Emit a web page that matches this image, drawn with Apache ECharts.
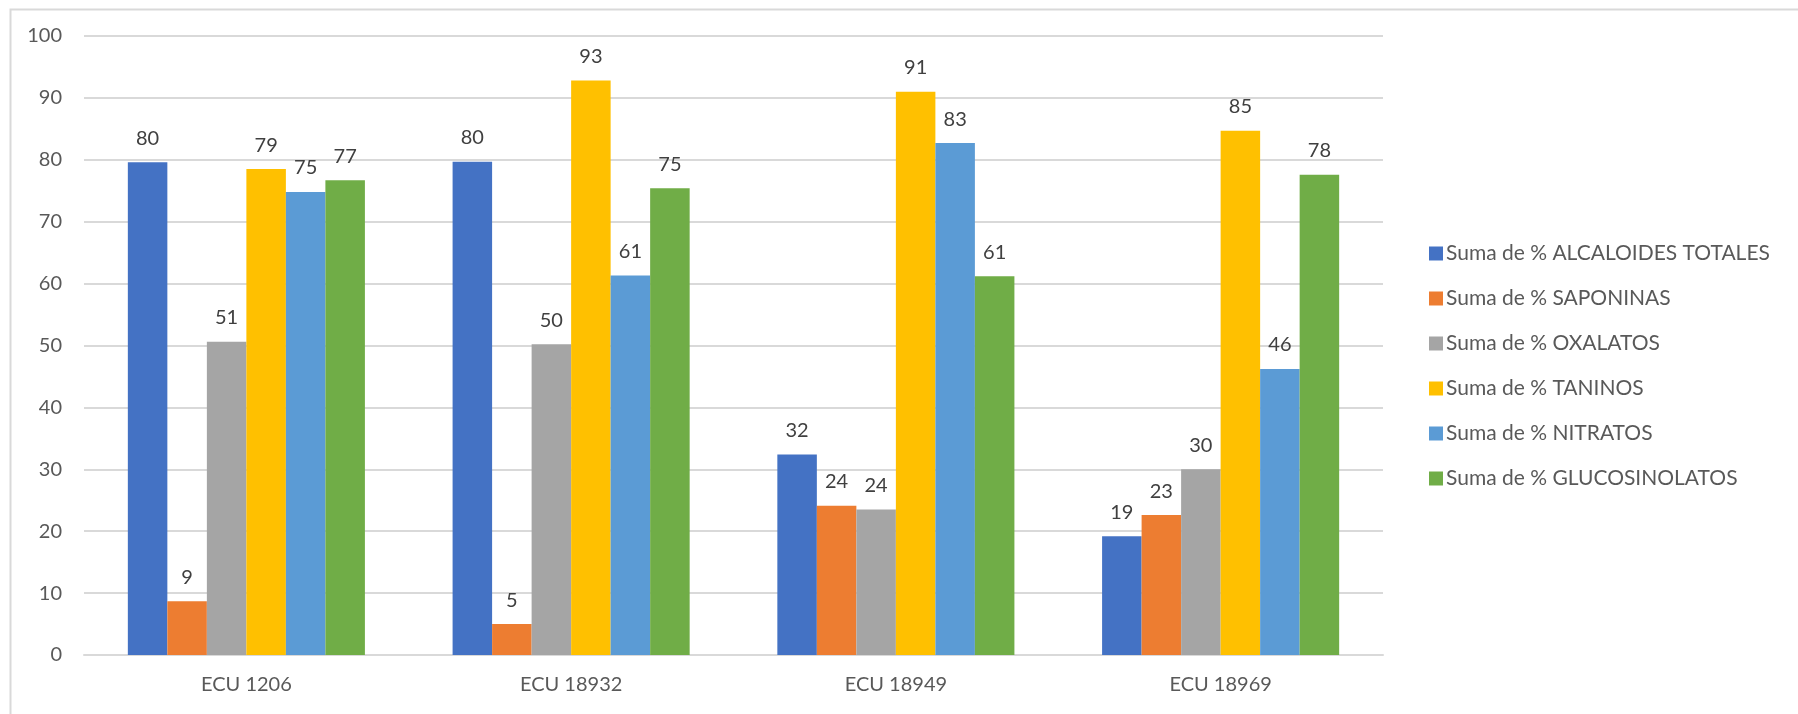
<!DOCTYPE html>
<html>
<head>
<meta charset="utf-8">
<script src="https://cdn.jsdelivr.net/npm/echarts@6/dist/echarts.min.js"></script>
<style>
  html, body { margin: 0; padding: 0; background: #fff; }
  #chart { width: 1798px; height: 714px; }
</style>
</head>
<body>
<div id="chart"></div>
<script>
// categories and series values
const categories = ['ECU 1206', 'ECU 18932', 'ECU 18949', 'ECU 18969']
const seriesNames = [
  'Suma de % ALCALOIDES TOTALES',
  'Suma de % SAPONINAS',
  'Suma de % OXALATOS',
  'Suma de % TANINOS',
  'Suma de % NITRATOS',
  'Suma de % GLUCOSINOLATOS'
]
const alcaloides = [79.6, 79.7, 32.4, 19.2]
const saponinas = [8.7, 5.0, 24.1, 22.6]
const oxalatos = [50.6, 50.2, 23.5, 30.0]
const taninos = [78.5, 92.8, 91.0, 84.7]
const nitratos = [74.8, 61.3, 82.7, 46.2]
const glucosinolatos = [76.7, 75.4, 61.2, 77.6]
const yTicks = [0, 10, 20, 30, 40, 50, 60, 70, 80, 90, 100]

const colors = ['#4472C4', '#ED7D31', '#A5A5A5', '#FFC000', '#5B9BD5', '#70AD47']
const textColor = '#595959'
const fontFamily = 'Lato, "Open Sans", sans-serif'

const allValues = [alcaloides, saponinas, oxalatos, taninos, nitratos, glucosinolatos]

function getSerie(name, data, index) {
  return {
    name: name,
    type: 'bar',
    data: data,
    barGap: '0%',
    barCategoryGap: '27%',
    itemStyle: { color: colors[index] },
    label: {
      show: true,
      position: 'top',
      distance: 14,
      color: '#404040',
      fontSize: 20,
      fontFamily: fontFamily,
      formatter: function(p) {
        return Math.round(p.value)
      }
    }
  }
}

const chart = echarts.init(document.getElementById('chart'))
const option = {
  animation: false,
  backgroundColor: '#fff',
  color: colors,
  graphic: [
    {
      type: 'rect',
      left: 8,
      top: 7,
      shape: { width: 1820, height: 730 },
      style: { fill: 'none', stroke: '#D9D9D9', lineWidth: 2 },
      silent: true
    }
  ],
  grid: {
    left: 84,
    right: 415,
    top: 36,
    bottom: 59,
    containLabel: false
  },
  legend: {
    orient: 'vertical',
    left: 1424,
    top: 238,
    itemWidth: 14,
    itemHeight: 14,
    itemGap: 24,
    icon: 'rect',
    data: seriesNames,
    textStyle: {
      color: textColor,
      fontSize: 21,
      fontFamily: fontFamily,
      padding: [0, 0, 0, -2]
    }
  },
  xAxis: {
    type: 'category',
    data: categories,
    axisTick: { show: false },
    axisLine: { lineStyle: { color: '#D9D9D9', width: 2 } },
    axisLabel: {
      color: textColor,
      fontSize: 20,
      fontFamily: fontFamily,
      margin: 20
    }
  },
  yAxis: {
    type: 'value',
    min: yTicks[0],
    max: yTicks[yTicks.length - 1],
    interval: 10,
    axisLine: { show: false },
    axisTick: { show: false },
    axisLabel: {
      color: textColor,
      fontSize: 20,
      fontFamily: fontFamily,
      margin: 22
    },
    splitLine: { lineStyle: { color: '#D9D9D9', width: 2 } }
  },
  series: seriesNames.map(function(name, i) {
    return getSerie(name, allValues[i], i)
  })
}
chart.setOption(option)
</script>
</body>
</html>
